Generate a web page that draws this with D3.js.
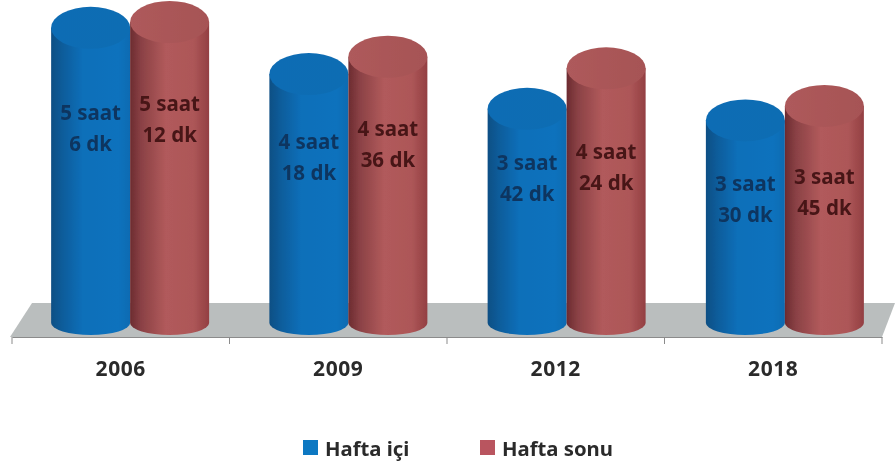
<!DOCTYPE html>
<html><head><meta charset="utf-8">
<script src="https://cdn.jsdelivr.net/npm/d3@7/dist/d3.min.js"></script>
<style>html,body{margin:0;padding:0;background:#fff}svg{display:block}</style>
</head><body><svg id="c" width="895" height="468"></svg>
<script>
const categories = ["2006","2009","2012","2018"];
const seriesNames = ["Hafta içi","Hafta sonu"];
const weekdayMinutes = [306,258,222,210];
const weekendMinutes = [312,276,264,225];
const weekdayLabels = [["5 saat","6 dk"],["4 saat","18 dk"],["3 saat","42 dk"],["3 saat","30 dk"]];
const weekendLabels = [["5 saat","12 dk"],["4 saat","36 dk"],["4 saat","24 dk"],["3 saat","45 dk"]];

// layout
const W=895,H=468, axisY=337, baseY=323, rTop=21, rBot=12, barW=79;
const labelMid = [[127,156,177,198],[118,143,166,191]];
const svg=d3.select("#c");
const x=d3.scaleBand().domain(categories).range([12,882]);
const xBar=d3.scaleBand().domain(categories).range([21,894]);
const xs=d3.scaleBand().domain([0,1]).range([xBar.bandwidth()/2-barW, xBar.bandwidth()/2+barW]);
const y=d3.scaleLinear().domain([0,312]).range([baseY,22]);
const font='"Noto Sans",sans-serif';

const defs=svg.append("defs");
function grad(id,stops){
  const g=defs.append("linearGradient").attr("id",id);
  stops.forEach(([o,c])=>g.append("stop").attr("offset",o).attr("stop-color",c));
}
grad("g0",[[0,"#0f4f84"],[.14,"#0e5c9a"],[.4,"#0f6fb9"],[.85,"#1072bd"],[1,"#0f6bb2"]]);
grad("g1",[[0,"#6c2b30"],[.14,"#8a4145"],[.45,"#b15a5b"],[.8,"#ad5758"],[1,"#933f42"]]);
grad("t0",[[0,"#106cb4"],[1,"#116db3"]]);
grad("t1",[[0,"#ae5a5b"],[1,"#a65355"]]);
defs.append("filter").attr("id","soft").attr("x","-2%").attr("y","-2%").attr("width","104%").attr("height","104%")
  .append("feGaussianBlur").attr("stdDeviation",0.55);

const root=svg.append("g").attr("filter","url(#soft)");
root.append("rect").attr("width",W).attr("height",H).attr("fill","#fff");

// floor
root.append("path").attr("d",`M32,303L895,303L882,${axisY}L10,${axisY}Z`).attr("fill","#babebe");

// axis
const axis=d3.axisBottom(x).tickSize(0).tickPadding(22);
const ax=root.append("g").attr("transform",`translate(0,${axisY})`).call(axis);
ax.select(".domain").attr("stroke","#8b8b8b").attr("stroke-width",1.2);
ax.selectAll("text").attr("font-family",font).attr("font-weight",700).attr("font-size",21).attr("letter-spacing",0.6).attr("fill","#2c2c2c").attr("dy","0.36em").attr("y",31);
root.append("g").selectAll("line").data(d3.range(5)).join("line")
  .attr("x1",i=>12+i*x.bandwidth()).attr("x2",i=>12+i*x.bandwidth())
  .attr("y1",axisY).attr("y2",axisY+7).attr("stroke","#8b8b8b");

// cylinders
[weekdayMinutes,weekendMinutes].forEach((vals,s)=>{
  const g=root.append("g");
  categories.forEach((c,i)=>{
    const x0=xBar(c)+xs(s), x1=x0+barW, rx=barW/2, ty=y(vals[i]);
    g.append("path").attr("fill",`url(#g${s})`)
     .attr("d",`M${x0},${ty}L${x0},${baseY}A${rx},${rBot} 0 0 0 ${x1},${baseY}L${x1},${ty}Z`);
    g.append("ellipse").attr("cx",x0+rx).attr("cy",ty).attr("rx",rx).attr("ry",rTop).attr("fill",`url(#t${s})`);
  });
});

// value labels
[weekdayLabels,weekendLabels].forEach((labs,s)=>{
  categories.forEach((c,i)=>{
    const cx=xBar(c)+xs(s)+barW/2;
    labs[i].forEach((t,k)=>root.append("text").attr("x",cx).attr("y",labelMid[s][i]+(k?15.5:-15.5))
      .attr("text-anchor","middle").attr("dominant-baseline","central")
      .attr("font-family",font).attr("font-weight",700).attr("font-size",20.5)
      .attr("fill",s?"#471418":"#0a3660").text(t));
  });
});

// legend
const lg=root.append("g");
[[303,325],[480,502]].forEach(([sx,tx],s)=>{
  lg.append("rect").attr("x",sx).attr("y",440).attr("width",15).attr("height",15).attr("fill",s?"#b9545e":"#0f78c2");
  lg.append("text").attr("x",tx).attr("y",448).attr("dominant-baseline","central")
    .attr("font-family",font).attr("font-weight",700).attr("font-size",20.3).attr("fill","#2c2c2c").text(seriesNames[s]);
});
</script></body></html>
